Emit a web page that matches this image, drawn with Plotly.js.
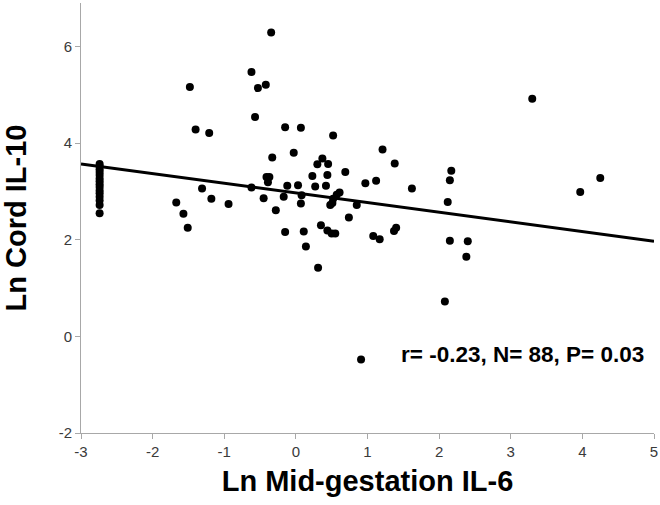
<!DOCTYPE html>
<html>
<head>
<meta charset="utf-8">
<script src="https://cdn.plot.ly/plotly-3.0.1.min.js"></script>
<style>html,body{margin:0;padding:0;background:#fff;}#chart{width:660px;height:505px;}</style>
</head>
<body>
<div id="chart"></div>
<script>
// Ln Mid-gestation IL-6 (x) vs Ln Cord IL-10 (y)
const clusterX = [-2.74,-2.74,-2.74,-2.74,-2.74,-2.74,-2.74,-2.74,-2.74,-2.74,-2.74,-2.74,-2.74,-2.74,-2.74];
const clusterY = [3.57,3.52,3.46,3.40,3.34,3.27,3.21,3.15,3.09,3.02,2.96,2.89,2.81,2.72,2.55];
const otherX = [-0.345,-0.62,-0.42,-0.53,-1.48,3.30,-0.57,-1.40,-1.21,-0.15,0.07,0.52,1.21,-0.03,-0.33,0.37,0.30,0.45,1.38,0.69,2.17,-0.41,-0.37,-0.39,0.23,0.44,2.15,1.12,0.97,-0.12,0.03,0.27,0.42,-0.62,4.25,-1.31,1.62,3.97,0.61,0.57,-0.17,0.08,-0.45,0.52,-1.18,-1.67,2.12,-0.94,0.07,0.48,0.51,0.85,-0.28,-1.57,0.74,-1.51,0.35,1.40,1.37,-0.15,0.11,0.44,0.50,0.55,1.08,1.17,2.15,2.40,0.14,2.38,0.31,2.08,0.91];
const otherY = [6.29,5.47,5.21,5.14,5.16,4.92,4.54,4.28,4.21,4.33,4.32,4.16,3.87,3.80,3.70,3.68,3.56,3.57,3.58,3.40,3.43,3.30,3.30,3.19,3.32,3.34,3.23,3.22,3.17,3.12,3.13,3.10,3.12,3.08,3.28,3.06,3.06,2.99,2.98,2.93,2.89,2.92,2.86,2.85,2.85,2.77,2.78,2.74,2.75,2.72,2.76,2.72,2.61,2.54,2.46,2.25,2.30,2.25,2.18,2.16,2.17,2.19,2.13,2.13,2.08,2.01,1.98,1.97,1.86,1.65,1.42,0.72,-0.48];
// fit line end points
const fitX = [-3, 5];
const fitY = [3.57, 1.97];
const xTicks = [-3,-2,-1,0,1,2,3,4,5];
const xTickText = ["-3","-2","-1","0","1","2","3","4","5"];
const yTicks = [-2,0,2,4,6];
const yTickText = ["-2","0","2","4","6"];
const statText = "r= -0.23, N= 88, P= 0.03";

const xs = clusterX.concat(otherX);
const ys = clusterY.concat(otherY);

const tickFont = {family: '"Liberation Sans Narrow", "Liberation Sans", Arial, sans-serif', size: 15, color: '#3a3a3a'};
const titleFont = {family: '"Liberation Sans", Arial, sans-serif', size: 29, color: '#000', weight: 'bold'};

const data = [
  {x: xs, y: ys, mode: 'markers', type: 'scatter',
   marker: {color: '#000', size: 8}, hoverinfo: 'skip', showlegend: false},
  {x: fitX, y: fitY, mode: 'lines', type: 'scatter',
   line: {color: '#000', width: 3}, hoverinfo: 'skip', showlegend: false}
];

const layout = {
  width: 660, height: 505,
  margin: {l: 81, r: 6, t: 3, b: 72},
  paper_bgcolor: '#fff', plot_bgcolor: '#fff',
  showlegend: false,
  xaxis: {
    range: [-3, 5], tickvals: xTicks, ticktext: xTickText,
    showgrid: false, zeroline: false, showline: true, linecolor: '#a8a8a8', linewidth: 1,
    ticks: 'outside', ticklen: 5, tickcolor: '#a8a8a8', tickfont: tickFont,
    title: {text: 'Ln Mid-gestation IL-6', font: titleFont, standoff: 11}
  },
  yaxis: {
    range: [-2, 6.9], tickvals: yTicks, ticktext: yTickText,
    showgrid: false, zeroline: false, showline: true, linecolor: '#a8a8a8', linewidth: 1,
    ticks: 'outside', ticklen: 5, tickcolor: '#a8a8a8', tickfont: tickFont,
    title: {text: 'Ln Cord IL-10', font: titleFont, standoff: 26}
  },
  annotations: [{
    x: 3.17, y: -0.38, xref: 'x', yref: 'y', text: statText, showarrow: false,
    xanchor: 'center', yanchor: 'middle',
    font: {family: '"Liberation Sans", Arial, sans-serif', size: 22.5, color: '#000', weight: 'bold'}
  }]
};

Plotly.newPlot('chart', data, layout, {displayModeBar: false, staticPlot: true});
</script>
</body>
</html>
